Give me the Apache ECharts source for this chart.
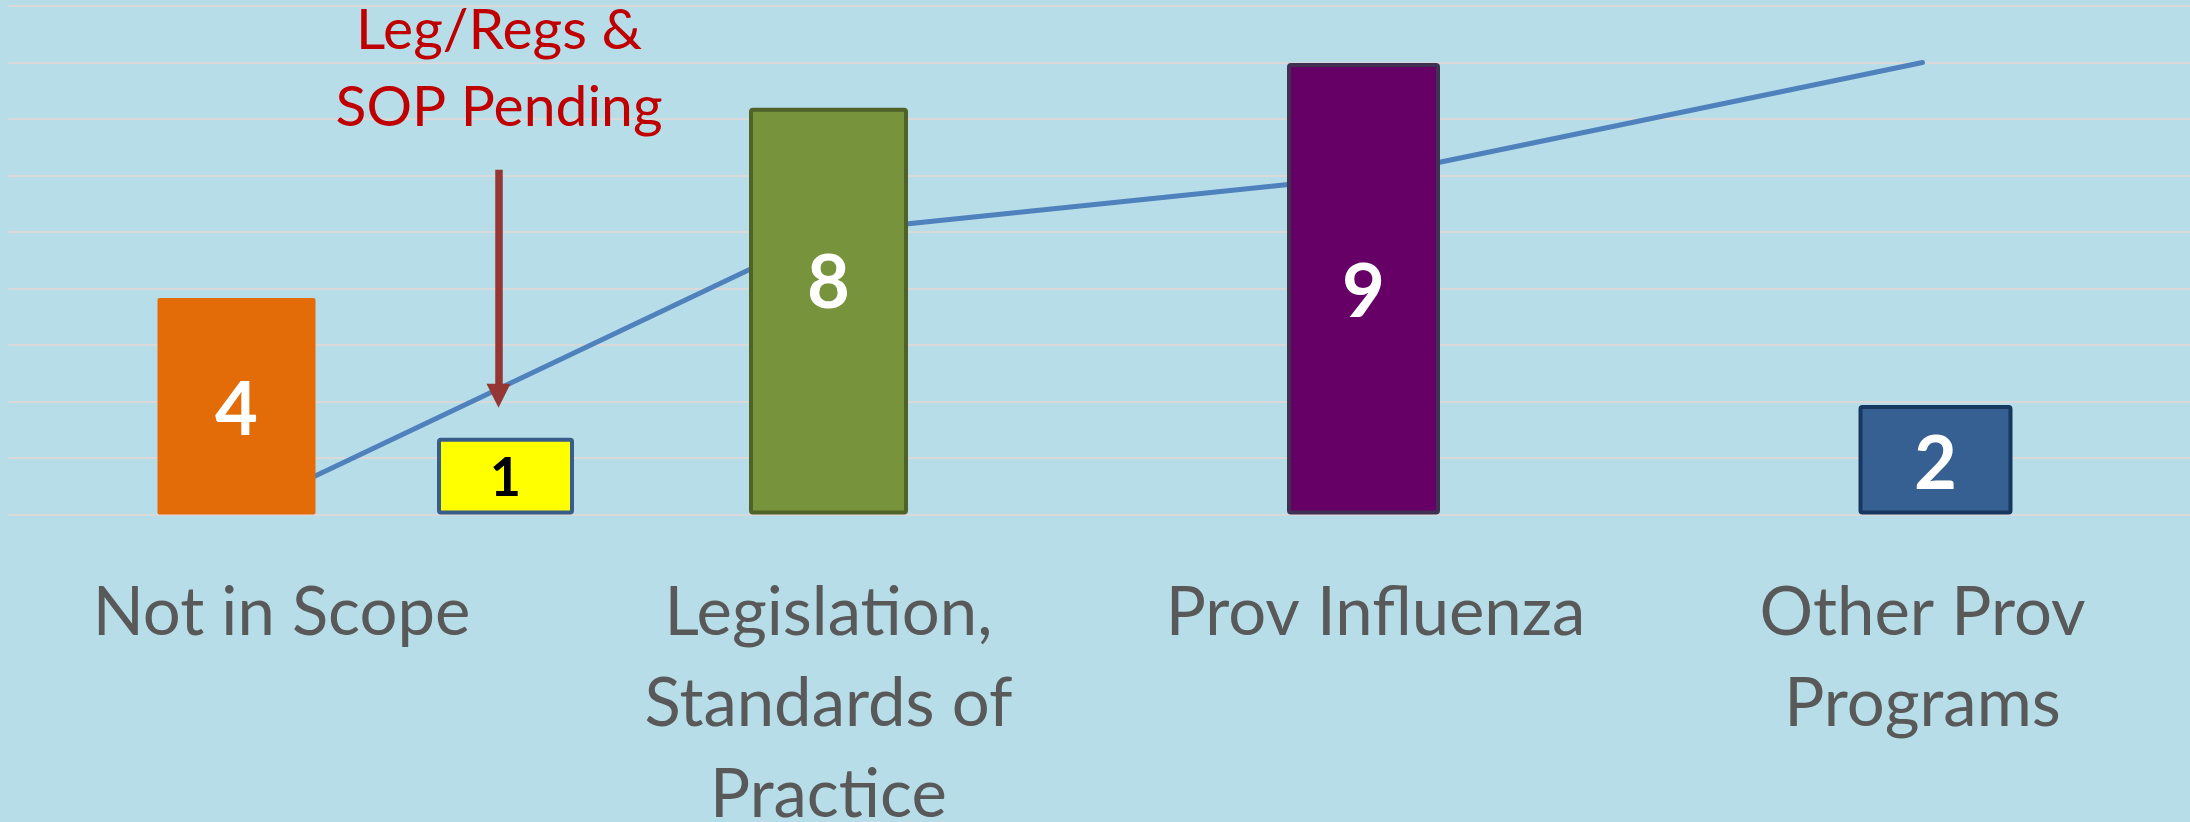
<!DOCTYPE html>
<html>
<head>
<meta charset="utf-8">
<script src="https://cdn.jsdelivr.net/npm/echarts@6/dist/echarts.min.js"></script>
<style>
  html, body { margin: 0; padding: 0; background: #b7dee8; }
  #chart { width: 2190px; height: 822px; }
</style>
</head>
<body>
<div id="chart"></div>
<script>
// ---- data ----
const categories = ['Not in Scope', 'Legislation,\nStandards of\nPractice', 'Prov Influenza', 'Other Prov\nPrograms'];
const counts = [4, 8, 9, 2];                 // numbers written on the bars
const barHeights = [3.83, 7.20, 7.99, 1.94]; // drawn bar heights, in gridline units
const pendingCount = 1;                      // small yellow bar
const pendingHeight = 1.36;
const trendValues = [0.4, 5.0, 6.0, 8.0];    // blue line
const arrowFromTo = [6.1, 2.1];              // annotation arrow, in gridline units
const annotationText = 'Leg/Regs &\nSOP Pending';
const yMax = 9;

// ---- styles ----
const FONT = 'Lato';
const barStyles = [
  { fill: '#e36c09', border: '#e36c09', bw: 0, width: 158, shift: -45, labelShift: 5 },
  { fill: '#77933c', border: '#4f6228', bw: 4, width: 159, shift: 0, labelShift: -27 },
  { fill: '#660066', border: '#403152', bw: 4, width: 153, shift: -12, labelShift: 4 },
  { fill: '#366092', border: '#17375e', bw: 4, width: 154, shift: 13, labelShift: 5 }
];
const pendingShift = 224;
const arrowShift = 217;

function gridAt(shift) {
  return { left: 8 + shift, width: 2188, top: 6, bottom: 307.5,
           outerBoundsMode: 'none', containLabel: false };
}

const grids = [gridAt(0)];
const xAxes = [{
  type: 'category', gridIndex: 0, data: categories,
  axisLine: { show: false }, axisTick: { show: false },
  axisLabel: {
    interval: 0, color: '#595959', fontFamily: FONT, fontSize: 67,
    lineHeight: 91, margin: 53
  }
}];
const yAxes = [{
  type: 'value', gridIndex: 0, min: 0, max: yMax, interval: 1,
  axisLine: { show: false }, axisTick: { show: false }, axisLabel: { show: false },
  splitLine: { show: true, lineStyle: { color: '#d9d9d9', width: 2 } }
}];
function addHiddenGrid(shift) {
  grids.push(gridAt(shift));
  const gi = grids.length - 1;
  xAxes.push({ type: 'category', gridIndex: gi, data: categories, show: false });
  yAxes.push({ type: 'value', gridIndex: gi, min: 0, max: yMax, interval: 1, show: false,
               splitLine: { show: false } });
  return gi;
}

const series = [{
  type: 'line', xAxisIndex: 0, yAxisIndex: 0, data: trendValues,
  symbol: 'none', z: 1,
  lineStyle: { color: '#4f81bd', width: 5, cap: 'round', join: 'round' }
}];

barHeights.forEach((h, idx) => {
  const st = barStyles[idx];
  const gi = addHiddenGrid(st.shift);
  series.push({
    type: 'bar', xAxisIndex: gi, yAxisIndex: gi, z: 3,
    barWidth: st.width,
    data: barHeights.map((v, j) => (j === idx ? v : '-')),
    itemStyle: { color: st.fill, borderColor: st.border, borderWidth: st.bw, borderRadius: 2 },
    label: {
      show: true, position: 'inside', formatter: () => String(counts[idx]),
      color: '#ffffff', fontFamily: FONT, fontWeight: 'bold', fontSize: 74,
      offset: [0, st.labelShift]
    }
  });
});

const pg = addHiddenGrid(pendingShift);
series.push({
  type: 'bar', xAxisIndex: pg, yAxisIndex: pg, z: 3,
  barWidth: 137,
  data: categories.map((c, j) => (j === 0 ? pendingHeight : '-')),
  itemStyle: { color: '#ffff00', borderColor: '#385d8a', borderWidth: 4, borderRadius: 2 },
  label: {
    show: true, position: 'inside', formatter: () => String(pendingCount),
    color: '#000000', fontFamily: FONT, fontWeight: 'bold', fontSize: 54, offset: [0, 2]
  }
});

const ag = addHiddenGrid(arrowShift);
series.push({
  type: 'line', xAxisIndex: ag, yAxisIndex: ag, z: 4,
  data: categories.map(() => '-'), symbol: 'none',
  markLine: {
    silent: true, symbol: ['none', 'triangle'], symbolSize: [24, 24],
    label: { show: false },
    lineStyle: { color: '#943634', width: 7.5, type: 'solid' },
    data: [[{ coord: [categories[0], arrowFromTo[0]] }, { coord: [categories[0], arrowFromTo[1]] }]]
  }
});

const chart = echarts.init(document.getElementById('chart'), null, { renderer: 'canvas' });
chart.setOption({
  animation: false,
  backgroundColor: '#b7dee8',
  grid: grids,
  xAxis: xAxes,
  yAxis: yAxes,
  series: series,
  graphic: [{
    type: 'text', z: 10,
    style: {
      text: annotationText, x: 499, y: -8, align: 'center', verticalAlign: 'top',
      fill: '#c00000', font: '57px ' + FONT, lineHeight: 77
    }
  }]
});
</script>
</body>
</html>
